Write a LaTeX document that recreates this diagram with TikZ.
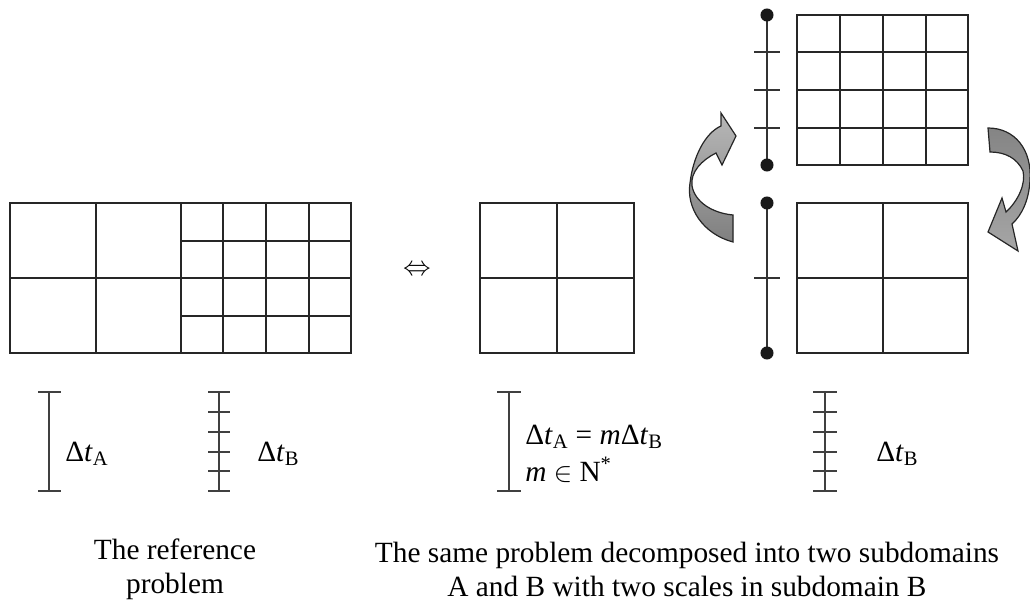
\documentclass[tikz,border=0pt]{standalone}
\usepackage{fontspec}
\setmainfont{Liberation Serif}
\begin{document}
\begin{tikzpicture}[x=0.75pt,y=-0.75pt,
  gridline/.style={line width=1.45pt, draw=black!85},
  tbar/.style={line width=1.7pt, draw=black!75},
  tline/.style={line width=1.6pt, draw=black!80},
  dotmark/.style={fill=black!90},
  curvearrow/.style={draw=black!85, line width=0.9pt, fill=black!40},
  lbl/.style={font=\fontsize{22}{25}\selectfont, inner sep=0pt},
  caption/.style={font=\fontsize{22}{25.5}\selectfont, align=center, inner sep=0pt}]
\useasboundingbox (0,0) rectangle (1030,609);

% ---------- left grid (reference problem)
\draw[gridline] (10,203) rectangle (351,353);
\foreach \x in {96,181} \draw[gridline] (\x,203) -- (\x,353);
\foreach \x in {223,266,309} \draw[gridline] (\x,203) -- (\x,353);
\draw[gridline] (10,278) -- (351,278);
\foreach \y in {241,316} \draw[gridline] (181,\y) -- (351,\y);

% ---------- equivalence
\node[lbl] (eqv) at (417,270) {$\Leftrightarrow$};

% ---------- middle grid (subdomain A)
\draw[gridline] (480,203) rectangle (634,353);
\draw[gridline] (557,203) -- (557,353);
\draw[gridline] (480,278) -- (634,278);

% ---------- right grids (subdomain B)
\draw[gridline] (797,15) rectangle (968,165);
\foreach \x in {840,883,926} \draw[gridline] (\x,15) -- (\x,165);
\foreach \y in {52,90,128} \draw[gridline] (797,\y) -- (968,\y);
\draw[gridline] (797,203) rectangle (968,353);
\draw[gridline] (883,203) -- (883,353);
\draw[gridline] (797,278) -- (968,278);

% ---------- time lines beside the right grids
\coordinate (tTop1) at (767,15);
\coordinate (tTop2) at (767,165);
\coordinate (tBot1) at (767,203);
\coordinate (tBot2) at (767,353);
\draw[tline] (tTop1) -- (tTop2);
\foreach \y in {52,90,128} \draw[tline] (754,\y) -- (780,\y);
\draw[tline] (tBot1) -- (tBot2);
\draw[tline] (754,278) -- (780,278);
\foreach \p in {tTop1,tTop2,tBot1,tBot2} \fill[dotmark] (\p) circle[radius=4.9pt];

% ---------- curved arrows
\draw[curvearrow, top color=black!28, bottom color=black!50]
  (733,242) .. controls (703,234) and (686,208) .. (690,183)
  .. controls (693,157) and (705,133) .. (721,126)
  -- (721,113) -- (736,136) -- (722,165) -- (716,153)
  .. controls (702,160) and (690,172) .. (692,186)
  .. controls (695,202) and (712,213) .. (733,215) -- cycle;
\draw[curvearrow, top color=black!48, bottom color=black!35]
  (988,128) .. controls (1015,128) and (1032,150) .. (1030,180)
  .. controls (1029,200) and (1022,215) .. (1012,224)
  -- (1018,251) -- (988,232) -- (1002,198) -- (1006,212)
  .. controls (1018,201) and (1026,184) .. (1023,171)
  .. controls (1017,158) and (1005,152) .. (990,152) -- cycle;

% ---------- time step bars
% Delta t_A (left)
\draw[tbar] (49,392) -- (49,491);
\foreach \y in {392,491} \draw[tbar] (38,\y) -- (61,\y);
\node[lbl, anchor=west] (dtA) at (65,454) {Δ\textit{t}\textsubscript{A}};
% Delta t_B (left)
\draw[tbar] (219,392) -- (219,491);
\foreach \y in {392,412,432,452,471,491} \draw[tbar] (208,\y) -- (230,\y);
\node[lbl, anchor=west] (dtB) at (257,454) {Δ\textit{t}\textsubscript{B}};
% middle
\draw[tbar] (509,392) -- (509,491);
\foreach \y in {392,491} \draw[tbar] (497,\y) -- (521,\y);
\node[lbl, anchor=base west] (rel1) at (525,444)
  {Δ\textit{t}\textsubscript{A} = \textit{m}Δ\textit{t}\textsubscript{B}};
\node[lbl, anchor=base west] (rel2) at (525,481)
  {\textit{m} $\in$ N\textsuperscript{*}};
% right
\draw[tbar] (825,392) -- (825,491);
\foreach \y in {392,412,432,452,471,491} \draw[tbar] (813,\y) -- (837,\y);
\node[lbl, anchor=west] (dtB2) at (876,454) {Δ\textit{t}\textsubscript{B}};

% ---------- captions
\node[caption] (capL) at (175,569) {The reference\\problem};
\node[caption] (capR) at (687,569) {The same problem decomposed into two subdomains\\A and B with two scales in subdomain B};
\end{tikzpicture}
\end{document}
